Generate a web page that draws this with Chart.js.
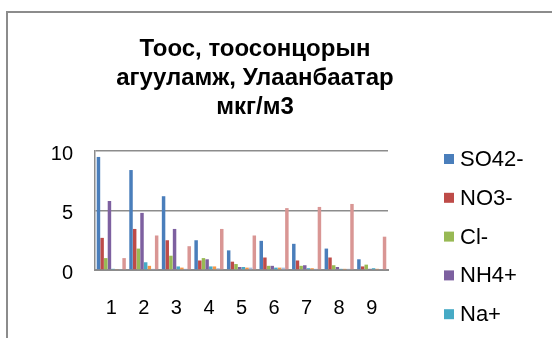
<!DOCTYPE html>
<html>
<head>
<meta charset="utf-8">
<script src="https://cdn.jsdelivr.net/npm/chart.js@4/dist/chart.umd.min.js"></script>
<style>
  html, body { margin: 0; padding: 0; background: #ffffff; }
  canvas { display: block; }
</style>
</head>
<body>
<canvas id="chart" width="552" height="338"></canvas>
<script>
// Sampling points
const categories = ['1', '2', '3', '4', '5', '6', '7', '8', '9'];

// Ion concentrations, мкг/м3
const so4 = [9.5, 8.4, 6.2, 2.5, 1.65, 2.45, 2.2, 1.8, 0.9];
const no3 = [2.7, 3.45, 2.5, 0.8, 0.7, 1.05, 0.8, 1.05, 0.3];
const cl  = [1.0, 1.8, 1.2, 1.0, 0.5, 0.35, 0.35, 0.4, 0.45];
const nh4 = [5.8, 4.8, 3.45, 0.9, 0.25, 0.35, 0.4, 0.25, 0.1];
const na  = [0.1, 0.65, 0.3, 0.3, 0.25, 0.2, 0.15, 0.1, 0.15];
const k   = [0.05, 0.35, 0.2, 0.3, 0.2, 0.2, 0.15, 0.1, 0.1];
const mg  = [0.05, 0.1, 0.1, 0.15, 0.2, 0.2, 0.1, 0.1, 0.05];
const ca  = [1.0, 2.9, 2.0, 3.45, 2.9, 5.2, 5.3, 5.55, 2.8];

const seriesNames = ['SO42-', 'NO3-', 'Cl-', 'NH4+', 'Na+', 'K+', 'Mg2+', 'Ca2+'];
const seriesValues = [so4, no3, cl, nh4, na, k, mg, ca];
const seriesColors = ['#4a7ebb', '#be4b48', '#98b954', '#7d60a0', '#46aac5', '#f79646', '#a9bfe0', '#d99694'];

const yTicks = [0, 5, 10];
const titleLines = ['Тоос, тоосонцорын', 'агууламж, Улаанбаатар', 'мкг/м3'];

const FONT = "'Liberation Sans', Arial, sans-serif";
const LEGEND_COUNT = 5;

// Outer frame, title and the side legend
const decorations = {
  id: 'decorations',
  beforeDraw(chart) {
    const ctx = chart.ctx;
    ctx.save();
    ctx.strokeStyle = '#8c8c8c';
    ctx.lineWidth = 2;
    ctx.beginPath();
    ctx.moveTo(7, 338);
    ctx.lineTo(7, 12);
    ctx.lineTo(552, 12);
    ctx.stroke();
    ctx.restore();
  },
  afterDraw(chart) {
    const ctx = chart.ctx;
    ctx.save();
    ctx.fillStyle = '#000';
    ctx.textAlign = 'center';
    ctx.textBaseline = 'middle';
    ctx.font = 'bold 24px ' + FONT;
    titleLines.forEach((line, i) => ctx.fillText(line, 255, 49 + i * 29));

    ctx.textAlign = 'left';
    ctx.font = '22px ' + FONT;
    chart.data.datasets.slice(0, LEGEND_COUNT).forEach((ds, i) => {
      const cy = 159 + i * 38.8;
      ctx.fillStyle = ds.backgroundColor;
      ctx.fillRect(444, cy - 5, 10, 10);
      ctx.fillStyle = '#000';
      ctx.fillText(ds.label, 460, cy + 1);
    });
    ctx.restore();
  }
};

new Chart(document.getElementById('chart'), {
  type: 'bar',
  data: {
    labels: categories,
    datasets: seriesNames.map((name, i) => ({
      label: name,
      data: seriesValues[i],
      backgroundColor: seriesColors[i],
      borderWidth: 0,
      categoryPercentage: 0.9,
      barPercentage: 0.95
    }))
  },
  options: {
    responsive: false,
    animation: false,
    devicePixelRatio: 1,
    layout: { padding: { left: 7, top: 151, right: 164, bottom: 0 } },
    plugins: {
      legend: { display: false },
      title: { display: false },
      tooltip: { enabled: false }
    },
    scales: {
      x: {
        grid: { display: false, drawTicks: false },
        border: { display: true, color: '#8c8c8c', width: 2 },
        ticks: { color: '#000', font: { family: FONT, size: 20 }, padding: 26 },
        afterFit(scale) { scale.height = 68; }
      },
      y: {
        min: 0,
        max: 10,
        afterBuildTicks(scale) { scale.ticks = yTicks.map(v => ({ value: v })); },
        grid: { color: '#8c8c8c', lineWidth: 1.5, drawTicks: false },
        border: { display: true, color: '#8c8c8c', width: 1.5 },
        ticks: { color: '#000', font: { family: FONT, size: 20 }, padding: 22, labelOffset: 3 },
        afterFit(scale) { scale.width = 88; }
      }
    }
  },
  plugins: [decorations]
});
</script>
</body>
</html>
